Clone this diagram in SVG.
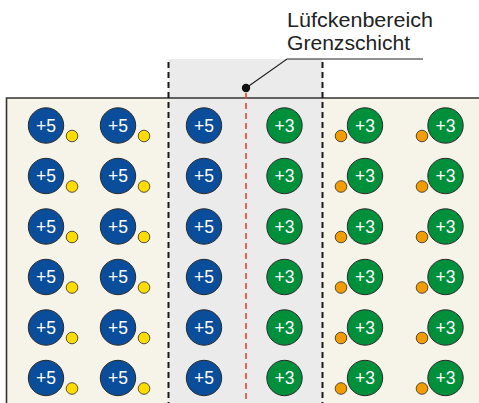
<svg xmlns="http://www.w3.org/2000/svg" width="479" height="403" viewBox="0 0 479 403">
<style>
.lbl{font-family:"Liberation Sans",Arial,sans-serif;font-size:19.5px;fill:#222}
.it{font-family:"Liberation Sans",Arial,sans-serif;font-size:17.5px;fill:#fff;text-anchor:middle}
.b{fill:#0a4e9b;stroke:#2a2a2a;stroke-width:1}
.g{fill:#008f3a;stroke:#2a2a2a;stroke-width:1}
.y{fill:#ffdc00;stroke:#2a2a2a;stroke-width:0.8}
.o{fill:#f39c00;stroke:#2a2a2a;stroke-width:0.8}
.dash{stroke:#1a1a1a;stroke-width:2;stroke-dasharray:6 4;fill:none}
</style>
<defs>
<g id="p5"><circle class="b" cx="0" cy="0" r="17.7"/><text class="it" x="0" y="6.3">+5</text></g>
<g id="p3"><circle class="g" cx="0" cy="0" r="17.7"/><text class="it" x="0" y="6.3">+3</text></g>
<circle id="ye" class="y" cx="0" cy="0" r="5.8"/>
<circle id="or" class="o" cx="0" cy="0" r="5.8"/>
</defs>
<g id="background">
<rect x="6.5" y="98" width="473" height="306" fill="#f6f3e9"/>
<rect x="168.5" y="59" width="154" height="345" fill="#ebebeb"/>
<path d="M6.5,404 V98 H479" fill="none" stroke="#333" stroke-width="1.6"/>
<line class="dash" x1="168.5" y1="62" x2="168.5" y2="403"/>
<line class="dash" x1="322.5" y1="62" x2="322.5" y2="403"/>
<line x1="246" y1="93" x2="246" y2="403" stroke="#e8452c" stroke-width="1.6" stroke-dasharray="6 4"/>
</g>
<g id="connectors">
<polyline points="246,88 287,59 423,59" fill="none" stroke="#222" stroke-width="1.2"/>
<circle cx="246" cy="88" r="4.2" fill="#111"/>
</g>
<g id="label">
<text class="lbl" x="287" y="27" textLength="146" lengthAdjust="spacingAndGlyphs">Lüfckenbereich</text>
<text class="lbl" x="287" y="50" textLength="123" lengthAdjust="spacingAndGlyphs">Grenzschicht</text>
</g>
<g id="ions">
<g id="row1" transform="translate(0,125.5)">
<use href="#p5" x="46"/><use href="#ye" x="72" y="10.5"/>
<use href="#p5" x="118"/><use href="#ye" x="144" y="10.5"/>
<use href="#p5" x="204"/>
<use href="#p3" x="284.5"/>
<use href="#p3" x="365"/><use href="#or" x="341" y="10.5"/>
<use href="#p3" x="445.5"/><use href="#or" x="422" y="10.5"/>
</g>
<g id="row2" transform="translate(0,176)">
<use href="#p5" x="46"/><use href="#ye" x="72" y="10.5"/>
<use href="#p5" x="118"/><use href="#ye" x="144" y="10.5"/>
<use href="#p5" x="204"/>
<use href="#p3" x="284.5"/>
<use href="#p3" x="365"/><use href="#or" x="341" y="10.5"/>
<use href="#p3" x="445.5"/><use href="#or" x="422" y="10.5"/>
</g>
<g id="row3" transform="translate(0,226.5)">
<use href="#p5" x="46"/><use href="#ye" x="72" y="10.5"/>
<use href="#p5" x="118"/><use href="#ye" x="144" y="10.5"/>
<use href="#p5" x="204"/>
<use href="#p3" x="284.5"/>
<use href="#p3" x="365"/><use href="#or" x="341" y="10.5"/>
<use href="#p3" x="445.5"/><use href="#or" x="422" y="10.5"/>
</g>
<g id="row4" transform="translate(0,277)">
<use href="#p5" x="46"/><use href="#ye" x="72" y="10.5"/>
<use href="#p5" x="118"/><use href="#ye" x="144" y="10.5"/>
<use href="#p5" x="204"/>
<use href="#p3" x="284.5"/>
<use href="#p3" x="365"/><use href="#or" x="341" y="10.5"/>
<use href="#p3" x="445.5"/><use href="#or" x="422" y="10.5"/>
</g>
<g id="row5" transform="translate(0,327.5)">
<use href="#p5" x="46"/><use href="#ye" x="72" y="10.5"/>
<use href="#p5" x="118"/><use href="#ye" x="144" y="10.5"/>
<use href="#p5" x="204"/>
<use href="#p3" x="284.5"/>
<use href="#p3" x="365"/><use href="#or" x="341" y="10.5"/>
<use href="#p3" x="445.5"/><use href="#or" x="422" y="10.5"/>
</g>
<g id="row6" transform="translate(0,378)">
<use href="#p5" x="46"/><use href="#ye" x="72" y="10.5"/>
<use href="#p5" x="118"/><use href="#ye" x="144" y="10.5"/>
<use href="#p5" x="204"/>
<use href="#p3" x="284.5"/>
<use href="#p3" x="365"/><use href="#or" x="341" y="10.5"/>
<use href="#p3" x="445.5"/><use href="#or" x="422" y="10.5"/>
</g>
</g>
</svg>
